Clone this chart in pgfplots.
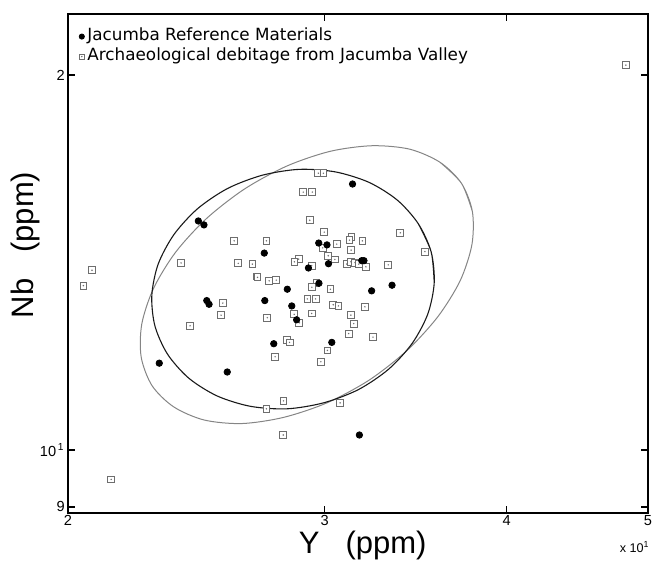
\documentclass[border=0pt]{standalone}
\usepackage{fontspec}
\setmainfont{Liberation Sans}
\newfontfamily\dejavu{DejaVu Sans}
\usepackage{pgfplots}
\pgfplotsset{compat=1.18}

\definecolor{sqgray}{HTML}{6E6E6E}
\definecolor{ellblack}{HTML}{1A1A1A}
\definecolor{ellgray}{HTML}{858585}

% open square with a small dot in the middle
\pgfdeclareplotmark{sqdot}{%
  \pgfpathrectangle{\pgfqpoint{-\pgfplotmarksize}{-\pgfplotmarksize}}{\pgfqpoint{2\pgfplotmarksize}{2\pgfplotmarksize}}%
  \pgfusepathqfillstroke
  \begin{pgfscope}
  \pgfsetfillcolor{sqgray}%
  \pgfpathcircle{\pgfpointorigin}{0.4pt}%
  \pgfusepathqfill
  \end{pgfscope}
}

\begin{document}
\begin{tikzpicture}
\begin{axis}[
  scale only axis,
  width=290pt, height=249.5pt,
  xmode=log, ymode=log,
  xmin=20, xmax=50, ymin=8.9, ymax=22.39,
  xtick={20,30,40,50}, xticklabels={2,3,4,5},
  ytick={9,10,20}, yticklabels={9,{10\textsuperscript{\,1}},2},
  minor xtick={}, minor ytick={},
  tick align=inside,
  major tick length=3.5pt,
  tick style={black, line width=0.6pt},
  axis line style={line width=1pt},
  ticklabel style={font=\fontsize{7.3}{8}\selectfont},
  xticklabel style={inner sep=1pt},
  yticklabel style={inner sep=1.5pt},
  clip mode=individual,
  legend style={draw=none, fill=none, at={(0,1)}, anchor=north west,
    xshift=4.4pt, yshift=-5.6pt, inner sep=1pt, row sep=1pt,
    font=\dejavu\fontsize{8.4}{10}\selectfont,
    nodes={inner sep=0.5pt, text height=6.2pt, text depth=1.8pt},
    /tikz/every odd column/.style={column sep=1pt}},
  legend cell align=left,
  reverse legend,
  legend image code/.code={\draw[#1, mark size=1.3pt] plot coordinates {(0pt,0pt)};},
]

% confidence ellipses (traced from the figure)
\addplot[forget plot, smooth, ellgray, line width=0.5pt] coordinates {
  (37.89,15.54)
  (37.24,16.37) (36.00,17.02) (34.31,17.44) (32.33,17.55) (30.26,17.37)
  (28.25,16.90) (26.43,16.20) (24.89,15.34) (23.70,14.41) (22.89,13.48)
  (22.47,12.62) (22.45,11.87) (22.84,11.26) (23.63,10.83) (24.79,10.57)
  (26.31,10.50) (28.11,10.62) (30.11,10.91) (32.19,11.38) (34.17,12.02)
  (35.89,12.80) (37.17,13.68) (37.86,14.62) (37.89,15.54)
  (37.24,16.37) (36.00,17.02)
};
\addplot[forget plot, smooth, ellblack, line width=0.55pt] coordinates {
  (35.67,13.62)
  (35.50,14.42) (34.79,15.19) (33.65,15.87) (32.18,16.40) (30.52,16.72)
  (28.82,16.80) (27.19,16.62) (25.74,16.22) (24.54,15.62) (23.64,14.89)
  (23.06,14.10) (22.83,13.31) (22.94,12.58) (23.40,11.94) (24.20,11.42)
  (25.31,11.05) (26.68,10.84) (28.26,10.79) (29.95,10.91) (31.64,11.18)
  (33.19,11.61) (34.45,12.18) (35.31,12.86) (35.67,13.62)
  (35.50,14.42) (34.79,15.19)
};

% archaeological debitage
\addplot[only marks, mark=sqdot, mark size=1.7pt,
  mark options={draw=sqgray, fill=white, line width=0.45pt}] coordinates {
  (29.70,16.68) (29.94,16.68) (29.00,16.11) (29.42,16.11) (29.30,15.29)
  (26.00,14.72) (27.36,14.72) (29.98,14.96) (30.58,14.63) (31.30,14.82)
  (31.20,14.74) (31.84,14.72) (29.91,14.53) (31.28,14.47) (30.17,14.32)
  (30.49,14.22) (28.79,14.23) (28.60,14.16) (29.39,14.06) (31.06,14.10)
  (31.27,14.16) (31.47,14.14) (31.66,14.10) (32.02,14.03) (33.17,14.08)
  (33.81,14.94) (35.15,14.43) (23.91,14.13) (26.17,14.12) (26.76,14.10)
  (26.95,13.78) (26.98,13.76) (27.48,13.67) (27.79,13.69) (29.61,13.61)
  (29.40,13.51) (30.27,13.46) (20.77,13.94) (20.49,13.55) (29.19,13.22)
  (29.57,13.22) (25.54,13.12) (25.47,12.83) (27.40,12.77) (30.41,13.08)
  (30.66,13.05) (31.97,13.03) (28.59,12.85) (28.82,12.65) (29.39,12.87)
  (31.27,12.83) (31.41,12.63) (31.16,12.40) (32.38,12.32) (24.25,12.58)
  (28.28,12.26) (28.38,12.20) (30.13,12.02) (27.74,11.88) (29.82,11.77)
  (28.11,10.95) (27.36,10.79) (30.74,10.91) (28.10,10.28) (21.41,9.47)
  (48.28,20.37)
};

% Jacumba reference materials
\addplot[only marks, mark=*, mark size=1.6pt,
  mark options={draw=black, fill=black}] coordinates {
  (31.35,16.35) (24.57,15.27) (24.79,15.16) (27.27,14.39) (29.72,14.66)
  (30.11,14.61) (29.24,14.00) (30.18,14.11) (31.81,14.19) (31.92,14.19)
  (28.28,13.46) (29.73,13.61) (32.31,13.42) (33.37,13.56) (24.90,13.18)
  (24.99,13.09) (27.29,13.18) (28.48,13.05) (28.70,12.72) (27.68,12.17)
  (30.34,12.20) (23.10,11.74) (25.72,11.55) (31.69,10.28)
};

\legend{Archaeological debitage from Jacumba Valley, Jacumba Reference Materials}

\node[anchor=base, font=\fontsize{15.5}{18}\selectfont]
  at ([yshift=-20.5pt]rel axis cs:0.508,0) {Y\hspace{13pt}(ppm)};
\node[anchor=base, rotate=90, font=\fontsize{15.5}{18}\selectfont]
  at ([xshift=-17.5pt]rel axis cs:0,0.537) {Nb\hspace{13pt}(ppm)};
\node[anchor=base east, font=\fontsize{6.3}{7}\selectfont, inner sep=0pt]
  at ([xshift=1pt,yshift=-20pt]rel axis cs:1,0) {x 10\textsuperscript{1}};

\coordinate (SW) at (rel axis cs:0,0);
\coordinate (NE) at (rel axis cs:1,1);
\end{axis}
\pgfresetboundingbox
\path[use as bounding box] ([shift={(-34pt,-24pt)}]SW) rectangle ([shift={(4.5pt,7pt)}]NE);
\end{tikzpicture}
\end{document}
